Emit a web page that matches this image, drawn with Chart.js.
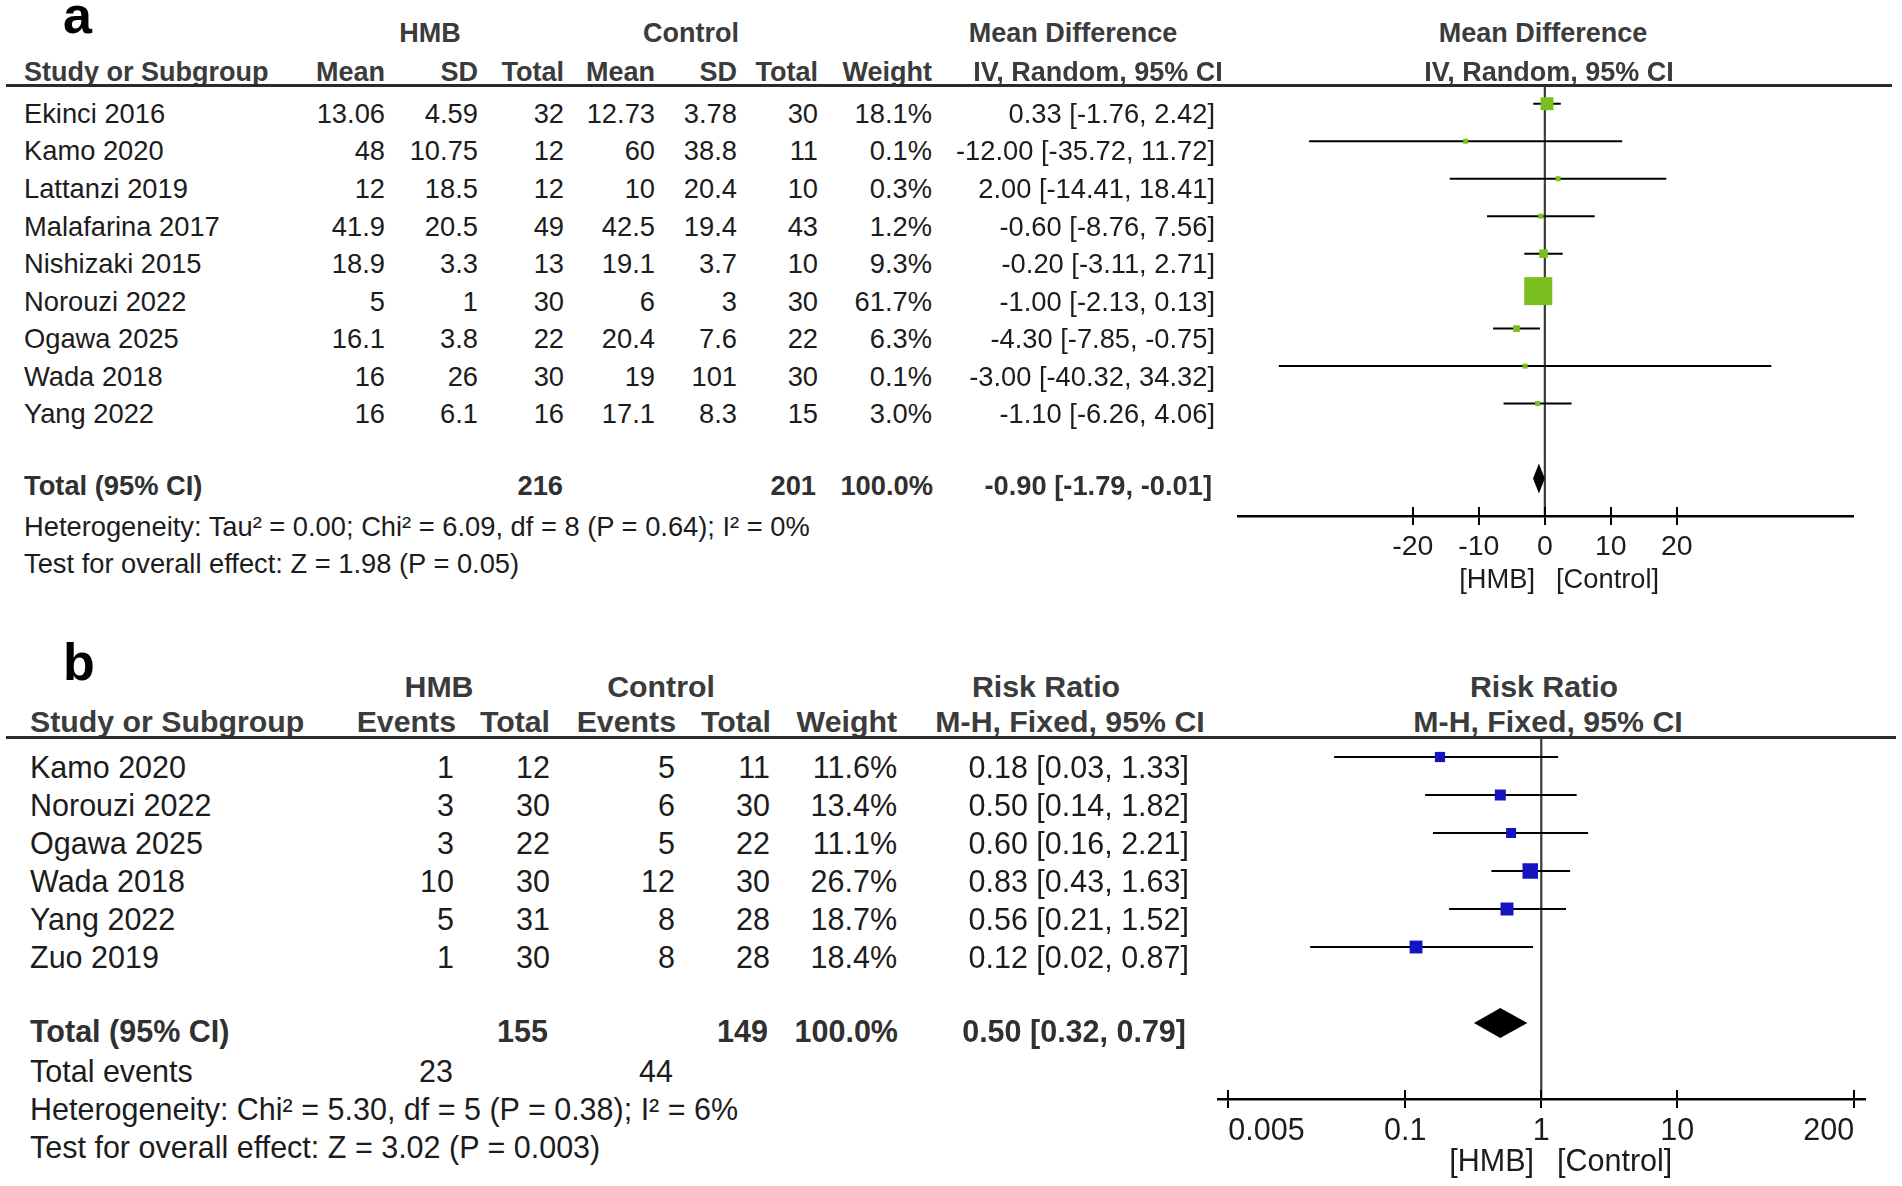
<!DOCTYPE html>
<html><head><meta charset="utf-8">
<script src="https://cdn.jsdelivr.net/npm/chart.js@4.4.1/dist/chart.umd.min.js"></script>
<style>
html,body{margin:0;padding:0;background:#fff;}
#page{position:relative;width:1902px;height:1186px;overflow:hidden;background:#fff;font-family:"Liberation Sans",Arial,sans-serif;}
.t{position:absolute;white-space:nowrap;}
.hl{position:absolute;background:#2b2b2b;}
canvas{position:absolute;}
</style></head><body><div id="page">
<canvas id="ca" width="715" height="511" style="left:1188px;top:85px;width:715px;height:511px"></canvas>
<canvas id="cb" width="747" height="441" style="left:1168px;top:738px;width:747px;height:441px"></canvas>
</div>
<script>
// ---------- Panel a data (Mean Difference) ----------
const studiesA = ['Ekinci 2016','Kamo 2020','Lattanzi 2019','Malafarina 2017','Nishizaki 2015','Norouzi 2022','Ogawa 2025','Wada 2018','Yang 2022'];
const hmbMeanA = [13.06, 48, 12, 41.9, 18.9, 5, 16.1, 16, 16];
const hmbSdA   = [4.59, 10.75, 18.5, 20.5, 3.3, 1, 3.8, 26, 6.1];
const hmbNA    = [32, 12, 12, 49, 13, 30, 22, 30, 16];
const ctlMeanA = [12.73, 60, 10, 42.5, 19.1, 6, 20.4, 19, 17.1];
const ctlSdA   = [3.78, 38.8, 20.4, 19.4, 3.7, 3, 7.6, 101, 8.3];
const ctlNA    = [30, 11, 10, 43, 10, 30, 22, 30, 15];
const weightA  = [18.1, 0.1, 0.3, 1.2, 9.3, 61.7, 6.3, 0.1, 3.0];
const mdA      = [0.33, -12.00, 2.00, -0.60, -0.20, -1.00, -4.30, -3.00, -1.10];
const loA      = [-1.76, -35.72, -14.41, -8.76, -3.11, -2.13, -7.85, -40.32, -6.26];
const hiA      = [2.42, 11.72, 18.41, 7.56, 2.71, 0.13, -0.75, 34.32, 4.06];
const totalA   = {hmbN: 216, ctlN: 201, weight: 100.0, est: -0.90, lo: -1.79, hi: -0.01};
const ticksA   = [-20, -10, 0, 10, 20];
const hetA  = 'Heterogeneity: Tau² = 0.00; Chi² = 6.09, df = 8 (P = 0.64); I² = 0%';
const testA = 'Test for overall effect: Z = 1.98 (P = 0.05)';

// ---------- Panel b data (Risk Ratio) ----------
const studiesB = ['Kamo 2020','Norouzi 2022','Ogawa 2025','Wada 2018','Yang 2022','Zuo 2019'];
const hmbEvB   = [1, 3, 3, 10, 5, 1];
const hmbNB    = [12, 30, 22, 30, 31, 30];
const ctlEvB   = [5, 6, 5, 12, 8, 8];
const ctlNB    = [11, 30, 22, 30, 28, 28];
const weightB  = [11.6, 13.4, 11.1, 26.7, 18.7, 18.4];
const rrB      = [0.18, 0.50, 0.60, 0.83, 0.56, 0.12];
const loB      = [0.03, 0.14, 0.16, 0.43, 0.21, 0.02];
const hiB      = [1.33, 1.82, 2.21, 1.63, 1.52, 0.87];
const totalB   = {hmbN: 155, ctlN: 149, weight: 100.0, est: 0.50, lo: 0.32, hi: 0.79, hmbEv: 23, ctlEv: 44};
const ticksB   = [0.005, 0.1, 1, 10, 200];
const hetB  = 'Heterogeneity: Chi² = 5.30, df = 5 (P = 0.38); I² = 6%';
const testB = 'Test for overall effect: Z = 3.02 (P = 0.003)';

// ---------- helpers ----------
const FONT = '"Liberation Sans", Arial, sans-serif';
const page = document.getElementById('page');
const C_DATA = '#1c1c1c', C_HEAD = '#3b3b3b';
function txt(s, x, base, align, o) {
  o = o || {};
  const F = o.size || 27;
  const d = document.createElement('div');
  d.className = 't';
  d.textContent = s;
  d.style.fontSize = F + 'px';
  d.style.lineHeight = F + 'px';
  d.style.fontWeight = o.bold ? '700' : '400';
  d.style.color = o.color || C_DATA;
  d.style.top = (base - 0.8465 * F) + 'px';
  d.style.left = x + 'px';
  if (align === 'right') d.style.transform = 'translateX(-100%)';
  else if (align === 'center') d.style.transform = 'translateX(-50%)';
  page.appendChild(d);
}
function hline(x, y, w, h) {
  const d = document.createElement('div');
  d.className = 'hl';
  d.style.left = x + 'px'; d.style.top = (y - h / 2) + 'px';
  d.style.width = w + 'px'; d.style.height = h + 'px';
  page.appendChild(d);
}
const f2 = v => v.toFixed(2);
const ci = (e, l, h) => f2(e) + ' [' + f2(l) + ', ' + f2(h) + ']';

const FA = 27.3, FB = 30.5;
const DA = {size: FA}, DB = {size: FB};
const HA = {bold: true, color: C_HEAD, size: 27}, HBd = {bold: true, color: C_HEAD, size: 30.3};
const TA = {bold: true, color: '#303030', size: FA}, TB = {bold: true, color: '#303030', size: FB};

// ---------- Panel a text ----------
txt('a', 63, 33, 'left', {bold: true, size: 52, color: '#000'});
txt('HMB', 430, 43, 'center', HA);
txt('Control', 691, 43, 'center', HA);
txt('Mean Difference', 1073, 43, 'center', HA);
txt('Mean Difference', 1543, 43, 'center', HA);
txt('Study or Subgroup', 24, 82, 'left', HA);
[['Mean',385],['SD',478],['Total',564],['Mean',655],['SD',737],['Total',818],['Weight',932]].forEach(c => txt(c[0], c[1], 82, 'right', HA));
txt('IV, Random, 95% CI', 1098, 82, 'center', HA);
txt('IV, Random, 95% CI', 1549, 82, 'center', HA);
hline(6, 85, 1886, 3);
studiesA.forEach((s, i) => {
  const b = 123 + 37.57 * i;
  txt(s, 24, b, 'left', DA);
  txt(String(hmbMeanA[i]), 385, b, 'right', DA);
  txt(String(hmbSdA[i]), 478, b, 'right', DA);
  txt(String(hmbNA[i]), 564, b, 'right', DA);
  txt(String(ctlMeanA[i]), 655, b, 'right', DA);
  txt(String(ctlSdA[i]), 737, b, 'right', DA);
  txt(String(ctlNA[i]), 818, b, 'right', DA);
  txt(weightA[i].toFixed(1) + '%', 932, b, 'right', DA);
  txt(ci(mdA[i], loA[i], hiA[i]), 1215, b, 'right', DA);
});
txt('Total (95% CI)', 24, 495, 'left', TA);
txt(String(totalA.hmbN), 563, 495, 'right', TA);
txt(String(totalA.ctlN), 816, 495, 'right', TA);
txt(totalA.weight.toFixed(1) + '%', 933, 495, 'right', TA);
txt(ci(totalA.est, totalA.lo, totalA.hi), 1212, 495, 'right', TA);
txt(hetA, 24, 536, 'left', DA);
txt(testA, 24, 573, 'left', DA);
txt('[HMB]', 1535, 588, 'right', DA);
txt('[Control]', 1556, 588, 'left', DA);

// ---------- Panel b text ----------
txt('b', 63, 680, 'left', {bold: true, size: 52, color: '#000'});
txt('HMB', 439, 698, 'center', HBd);
txt('Control', 661, 698, 'center', HBd);
txt('Risk Ratio', 1046, 698, 'center', HBd);
txt('Risk Ratio', 1544, 698, 'center', HBd);
txt('Study or Subgroup', 30, 733, 'left', HBd);
[['Events',456],['Total',550],['Events',676],['Total',771],['Weight',897]].forEach(c => txt(c[0], c[1], 733, 'right', HBd));
txt('M-H, Fixed, 95% CI', 1070, 733, 'center', HBd);
txt('M-H, Fixed, 95% CI', 1548, 733, 'center', HBd);
hline(6, 737.5, 1890, 3);
studiesB.forEach((s, i) => {
  const b = 778 + 38 * i;
  txt(s, 30, b, 'left', DB);
  txt(String(hmbEvB[i]), 454, b, 'right', DB);
  txt(String(hmbNB[i]), 550, b, 'right', DB);
  txt(String(ctlEvB[i]), 675, b, 'right', DB);
  txt(String(ctlNB[i]), 770, b, 'right', DB);
  txt(weightB[i].toFixed(1) + '%', 897, b, 'right', DB);
  txt(ci(rrB[i], loB[i], hiB[i]), 1189, b, 'right', DB);
});
txt('Total (95% CI)', 30, 1042, 'left', TB);
txt(String(totalB.hmbN), 548, 1042, 'right', TB);
txt(String(totalB.ctlN), 768, 1042, 'right', TB);
txt(totalB.weight.toFixed(1) + '%', 898, 1042, 'right', TB);
txt(ci(totalB.est, totalB.lo, totalB.hi), 1186, 1042, 'right', TB);
txt('Total events', 30, 1082, 'left', DB);
txt(String(totalB.hmbEv), 453, 1082, 'right', DB);
txt(String(totalB.ctlEv), 673, 1082, 'right', DB);
txt(hetB, 30, 1120, 'left', DB);
txt(testB, 30, 1158, 'left', DB);
txt('[HMB]', 1534, 1171, 'right', DB);
txt('[Control]', 1557, 1171, 'left', DB);

// ---------- Chart.js plugins ----------
const diamondPlugin = {
  id: 'diamond',
  afterDatasetsDraw(chart, args, o) {
    const {ctx, scales: {x, y}} = chart;
    const yc = y.getPixelForValue(o.row);
    ctx.save();
    ctx.fillStyle = '#000';
    ctx.beginPath();
    ctx.moveTo(x.getPixelForValue(o.lo), yc);
    ctx.lineTo(x.getPixelForValue(o.est), yc - o.half);
    ctx.lineTo(x.getPixelForValue(o.hi), yc);
    ctx.lineTo(x.getPixelForValue(o.est), yc + o.half);
    ctx.closePath();
    ctx.fill();
    ctx.restore();
  }
};
const tickUpPlugin = {
  id: 'tickUp',
  afterDraw(chart) {
    const {ctx, chartArea} = chart;
    const x = chart.scales.x;
    ctx.save();
    ctx.strokeStyle = '#000';
    ctx.lineWidth = 2;
    x.ticks.forEach(t => {
      const px = Math.round(x.getPixelForValue(t.value));
      ctx.beginPath();
      ctx.moveTo(px, chartArea.bottom - 9);
      ctx.lineTo(px, chartArea.bottom);
      ctx.stroke();
    });
    ctx.restore();
  }
};

function forest(id, o) {
  const datasets = [];
  datasets.push({
    data: o.est.map((v, i) => ({x: v, y: i})),
    pointStyle: 'rect',
    pointRadius: o.w.map(w => o.side(w) / Math.SQRT2),
    pointHoverRadius: o.w.map(w => o.side(w) / Math.SQRT2),
    backgroundColor: o.color, borderWidth: 0, showLine: false, order: 0, clip: false
  });
  o.lo.forEach((l, i) => datasets.push({
    data: [{x: l, y: i}, {x: o.hi[i], y: i}],
    showLine: true, borderColor: '#000', borderWidth: 2, pointRadius: 0, order: 1, clip: false
  }));
  datasets.push({
    data: [{x: o.ref, y: -0.5}, {x: o.ref, y: o.ymax}],
    showLine: true, borderColor: '#3a3a3a', borderWidth: 2.2, pointRadius: 0, order: 2, clip: false
  });
  return new Chart(document.getElementById(id), {
    type: 'scatter',
    data: {datasets},
    options: {
      responsive: false, animation: false, devicePixelRatio: 1,
      layout: {padding: {left: 50, right: 50, top: 0, bottom: 0}, autoPadding: false},
      events: [],
      plugins: {
        legend: {display: false}, tooltip: {enabled: false},
        diamond: {row: o.totalRow, est: o.total.est, lo: o.total.lo, hi: o.total.hi, half: 15}
      },
      scales: {
        x: {
          type: o.type, min: o.min, max: o.max, position: 'bottom',
          afterBuildTicks: s => { s.ticks = o.ticks.map(v => ({value: v})); },
          afterFit: s => { s.height = 80; },
          grid: {display: true, drawOnChartArea: false, drawTicks: true, tickLength: 9, color: '#000', lineWidth: 2},
          border: {display: true, color: '#000', width: 2.5},
          ticks: {
            font: {family: FONT, size: o.tickSize}, color: '#1c1c1c', padding: 5,
            autoSkip: false, maxRotation: 0, minRotation: 0, align: o.tickAlign,
            callback: v => String(v)
          }
        },
        y: {type: 'linear', min: -0.5, max: o.ymax, reverse: true, display: false}
      }
    },
    plugins: [diamondPlugin, tickUpPlugin]
  });
}

forest('ca', {
  type: 'linear', min: -46.5, max: 46.7, ticks: ticksA, ref: 0, ymax: 11, tickSize: 28.5, tickAlign: 'center',
  est: mdA, lo: loA, hi: hiA, w: weightA, total: totalA, totalRow: studiesA.length + 1,
  color: '#7abf1f', side: w => Math.max(5, 28 * Math.pow(w / 61.7, 0.63))
});
forest('cb', {
  type: 'logarithmic', min: 0.0042, max: 240, ticks: ticksB, ref: 1, ymax: 9, tickSize: 30.5, tickAlign: 'inner',
  est: rrB, lo: loB, hi: hiB, w: weightB, total: totalB, totalRow: studiesB.length + 1,
  color: '#1414c0', side: w => 3.0 * Math.sqrt(w)
});
</script>
</body></html>
